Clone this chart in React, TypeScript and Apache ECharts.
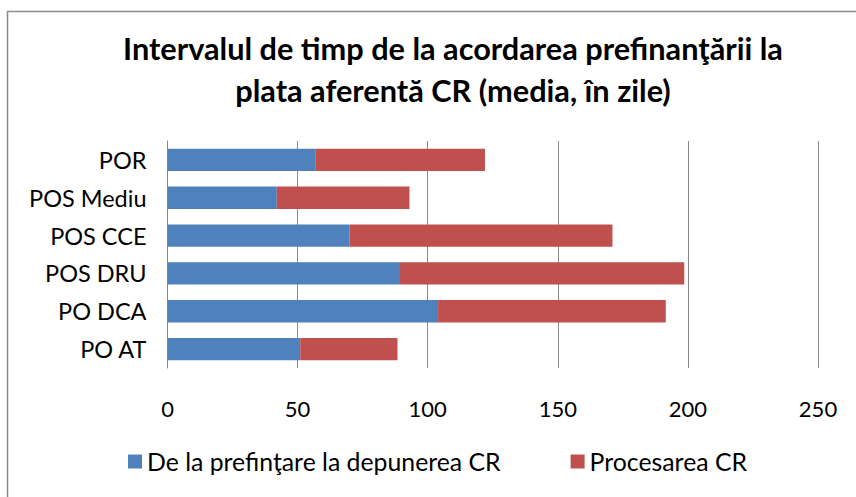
import React, { useEffect, useRef } from "react";
import * as echarts from "echarts";

const categories = ["POR", "POS Mediu", "POS CCE", "POS DRU", "PO DCA", "PO AT"];
const depunere = [57, 42, 70, 89, 104, 51];
const procesare = [65, 51, 101, 109.6, 87.5, 37.4];
const seriesNames = ["De la prefinţare la depunerea CR", "Procesarea CR"];
const xTicks = { min: 0, max: 250, interval: 50 };

const FONT = "Lato, 'Noto Sans', sans-serif";

export default function App() {
  const ref = useRef<HTMLDivElement>(null);
  useEffect(() => {
    document.body.style.margin = "0";
    if (!ref.current) return;
    const chart = echarts.init(ref.current, null, { renderer: "svg" });
    chart.setOption({
      animation: false,
      backgroundColor: "#ffffff",
      title: {
        text: "Intervalul de timp de la acordarea prefinanţării la\nplata aferentă CR (media, în zile)",
        left: 448,
        textAlign: "center",
        top: 22,
        textStyle: {
          fontFamily: FONT,
          fontWeight: "bold",
          fontSize: 30.7,
          lineHeight: 42,
          color: "#000000",
        },
      },
      graphic: [
        {
          type: "polyline",
          shape: { points: [[7.5, 497], [7.5, 11.5], [856, 11.5]] },
          style: { fill: "none", stroke: "#8c8c8c", lineWidth: 1.5 },
          silent: true,
        },
      ],
      legend: {
        bottom: 18,
        left: 123,
        itemWidth: 14,
        itemHeight: 14,
        itemGap: 70,
        icon: "rect",
        textStyle: { fontFamily: FONT, fontSize: 24.8, color: "#000000" },
        data: seriesNames,
      },
      grid: { left: 167.5, right: 38, top: 141, bottom: 497 - 368, containLabel: false },
      xAxis: {
        type: "value",
        min: xTicks.min,
        max: xTicks.max,
        interval: xTicks.interval,
        axisLine: { show: false },
        axisTick: { show: false },
        axisLabel: { fontFamily: FONT, fontSize: 22, color: "#000000", margin: 29 },
        splitLine: { show: true, lineStyle: { color: "#8a8a8a", width: 1 } },
      },
      yAxis: {
        type: "category",
        inverse: true,
        data: categories,
        axisLine: { show: true, lineStyle: { color: "#8a8a8a", width: 1 } },
        axisTick: { show: false },
        axisLabel: { fontFamily: FONT, fontSize: 23.5, color: "#000000", margin: 21 },
      },
      series: [
        {
          name: seriesNames[0],
          type: "bar",
          stack: "total",
          data: depunere,
          barCategoryGap: "41%",
          itemStyle: { color: "#4f81bd" },
        },
        {
          name: seriesNames[1],
          type: "bar",
          stack: "total",
          data: procesare,
          barCategoryGap: "41%",
          itemStyle: { color: "#c0504d" },
        },
      ],
    });
    return () => chart.dispose();
  }, []);
  return <div ref={ref} style={{ width: 856, height: 497 }} />;
}
